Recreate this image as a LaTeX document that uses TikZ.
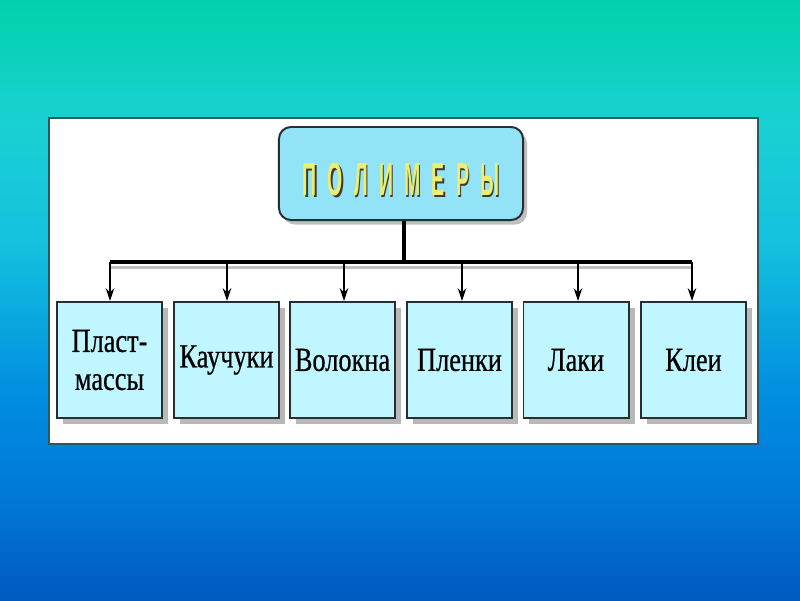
\documentclass[tikz,border=0pt]{standalone}
\usepackage{fontspec}
\usetikzlibrary{arrows.meta}
\newfontfamily\condfont[FakeStretch=0.78,FakeBold=0.6]{Liberation Serif}
\newfontfamily\titlefont[FakeStretch=0.42]{Liberation Sans}
\definecolor{boxfill}{RGB}{192,246,255}
\definecolor{topfill}{RGB}{146,226,248}
\definecolor{edge}{RGB}{40,45,50}
\definecolor{titleyellow}{RGB}{238,238,110}
\definecolor{paneledge}{RGB}{40,90,100}
\pgfdeclareverticalshading{bgshade}{100bp}{rgb(0bp)=(0,0.35,0.75); rgb(25bp)=(0,0.35,0.75); rgb(33.3bp)=(0,0.47,0.84); rgb(41.7bp)=(0,0.55,0.88); rgb(55bp)=(0.08,0.76,0.87); rgb(65bp)=(0.1,0.82,0.82); rgb(75bp)=(0,0.82,0.67); rgb(100bp)=(0,0.82,0.67)}
\tikzset{
  leaf/.style={draw=edge, line width=1.4pt, fill=boxfill, minimum width=2.625cm, minimum height=2.9cm, inner sep=0pt, font=\condfont\fontsize{24}{25}\selectfont, align=center},
  leafshadow/.style={fill=black!28, minimum width=2.625cm, minimum height=2.9cm, inner sep=0pt},
  conn/.style={line width=1.6pt, -{Stealth[length=9pt,width=6pt]}},
  bar/.style={line width=2.2pt},
  titletext/.style={font=\titlefont\bfseries\fontsize{33}{34}\selectfont},
}
\begin{document}
\begin{tikzpicture}[x=0.025cm,y=-0.025cm]
\useasboundingbox (0,0) rectangle (800,600);
\shade[shading=bgshade] (0,0) rectangle (800,600);
% white panel
\draw[paneledge, line width=0.8pt, fill=white] (49,118) rectangle (758,444);
% top node shadow and node
\node[fill=black!25, rounded corners=0.3cm, minimum width=6.1cm, minimum height=2.325cm] (topsh) at (405,178) {};
\node[draw=edge, line width=1.4pt, fill=topfill, rounded corners=0.3cm, minimum width=6.1cm, minimum height=2.325cm] (top) at (401,173.5) {};
\node[text=black!75!olive, titletext] (titlesh) at (402.5,181.5) {П\hspace{8pt}О\hspace{8pt}Л\hspace{8pt}И\hspace{8pt}М\hspace{8pt}Е\hspace{8pt}Р\hspace{8pt}Ы};
\node[text=titleyellow, titletext] (title) at (401,180) {П\hspace{8pt}О\hspace{8pt}Л\hspace{8pt}И\hspace{8pt}М\hspace{8pt}Е\hspace{8pt}Р\hspace{8pt}Ы};
% leaf shadows
\foreach \x [count=\i] in {109.5,226.5,342.5,459.5,576,693.5} {
  \node[leafshadow] (sh\i) at (\x+6,366) {};
}
% leaves
\node[leaf] (b1) at (109.5,360) {Пласт-\\[2pt]массы};
\node[leaf] (b2) at (226.5,360) {Каучуки};
\node[leaf] (b3) at (342.5,360) {Волокна};
\node[leaf] (b4) at (459.5,360) {Пленки};
\node[leaf] (b5) at (576,360) {Лаки};
\node[leaf] (b6) at (693.5,360) {Клеи};
% connectors
\coordinate (stem) at (404,262);
\coordinate (barL) at (110,262);
\coordinate (barR) at (692,262);
\draw[black!25, line width=2pt] ([yshift=-4pt]barL) -- ([yshift=-4pt]barR);
\draw[bar] (top.south -| stem) -- (stem);
\draw[bar] (barL) -- (barR);
\foreach \i/\x in {1/110,2/227,3/344,4/462,5/578,6/692} {
  \draw[conn] (\x,262) -- (b\i.north -| \x,0);
}
\end{tikzpicture}
\end{document}
